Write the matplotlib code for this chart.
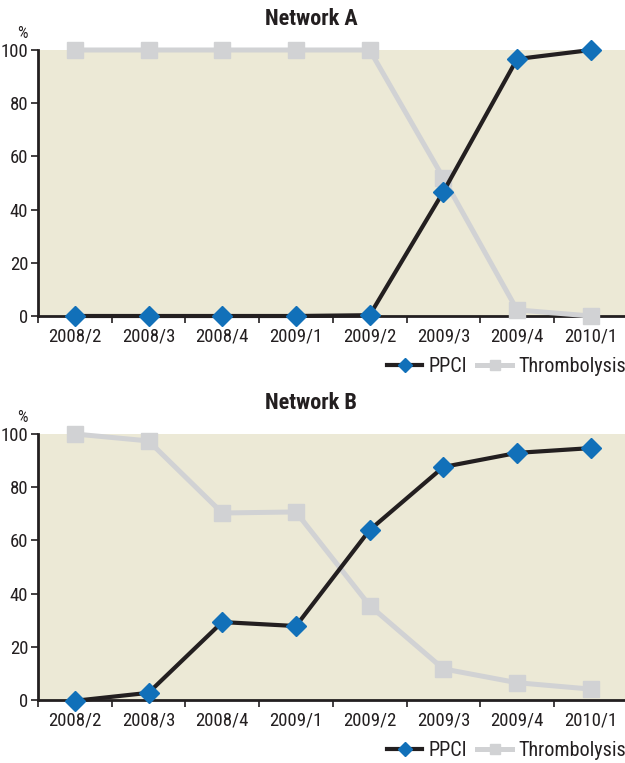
import matplotlib
matplotlib.use("Agg")
import matplotlib.pyplot as plt
from matplotlib.lines import Line2D
from matplotlib import font_manager
import numpy as np

periods = ["2008/2", "2008/3", "2008/4", "2009/1", "2009/2", "2009/3", "2009/4", "2010/1"]

net_a_ppci = [0, 0, 0, 0, 0.3, 46.7, 96.6, 100]
net_a_thromb = [100, 100, 100, 100, 100, 51.9, 2.3, 0]

net_b_ppci = [-0.3, 2.7, 29.3, 27.8, 63.9, 87.6, 92.9, 94.7]
net_b_thromb = [100, 97.4, 70.3, 70.7, 35.5, 11.7, 6.5, 4.1]

yticks = [0, 20, 40, 60, 80, 100]

BG = "#ECE9D6"
BLUE = "#1170B9"
DARK = "#231F20"
GREY = "#D1D2D4"
TXT = "#231F20"

installed = {f.name for f in font_manager.fontManager.ttflist}
families = [f for f in ["Roboto Condensed", "Liberation Sans Narrow", "Roboto",
                        "Liberation Sans"] if f in installed] + ["DejaVu Sans"]
plt.rcParams["font.family"] = families

W, H = 625, 763
fig = plt.figure(figsize=(W / 100, H / 100), dpi=100)


def panel(top_px, title, ppci, thromb):
    left = 38 / W
    width = (8 * 73.7) / W
    height = 266 / H
    bottom = 1 - (top_px + 266) / H
    ax = fig.add_axes([left, bottom, width, height])
    ax.set_facecolor(BG)
    x = np.arange(len(periods))
    ax.plot(x, thromb, color=GREY, lw=3.6, marker="s", ms=11.5,
            mfc=GREY, mec=GREY, clip_on=False, zorder=3, solid_joinstyle="miter")
    ax.plot(x, ppci, color=DARK, lw=3.0, marker="D", ms=10.5,
            mfc=BLUE, mec=BLUE, clip_on=False, zorder=4)
    ax.set_xlim(-0.5, len(periods) - 0.5)
    ax.set_ylim(0, 100)
    ax.set_yticks(yticks)
    ax.set_yticklabels([str(v) for v in yticks], fontsize=13.5, color=TXT)
    ax.set_xticks(x)
    ax.set_xticklabels(periods, fontsize=13.5, color=TXT)
    ax.set_xticks(np.arange(-0.5, len(periods) - 0.5, 1), minor=True)
    ax.tick_params(axis="x", which="major", length=0, pad=8)
    ax.tick_params(axis="x", which="minor", length=5, width=1.2, color=DARK)
    ax.tick_params(axis="y", length=5, width=1.2, color=DARK, pad=2)
    for s in ("top", "right"):
        ax.spines[s].set_visible(False)
    ax.spines["left"].set_linewidth(2)
    ax.spines["left"].set_color(DARK)
    ax.spines["bottom"].set_linewidth(2)
    ax.spines["bottom"].set_color(DARK)
    ax.spines["left"].set_zorder(5)
    fig.text(311 / W, 1 - (top_px - 31) / H, title, ha="center", va="center",
             fontsize=16, fontweight="bold", color=TXT)
    fig.text(22 / W, 1 - (top_px - 16) / H, "%", ha="center", va="center",
             fontsize=12, color=TXT)
    handles = [
        Line2D([], [], color=DARK, lw=3.0, marker="D", ms=7, mfc=BLUE, mec=BLUE),
        Line2D([], [], color=GREY, lw=3.6, marker="s", ms=7, mfc=GREY, mec=GREY),
    ]
    fig.legend(handles, ["PPCI", "Thrombolysis"], loc="center right",
               bbox_to_anchor=(1.0 + 11 / W, 1 - (top_px + 317) / H),
               ncol=2, frameon=False, fontsize=14.5, handlelength=1.75,
               handletextpad=0.3, columnspacing=0.5, borderpad=0,
               labelcolor=TXT)
    return ax


panel(50, "Network A", net_a_ppci, net_a_thromb)
panel(434, "Network B", net_b_ppci, net_b_thromb)

fig.savefig("out.png", dpi=100, facecolor="white")
